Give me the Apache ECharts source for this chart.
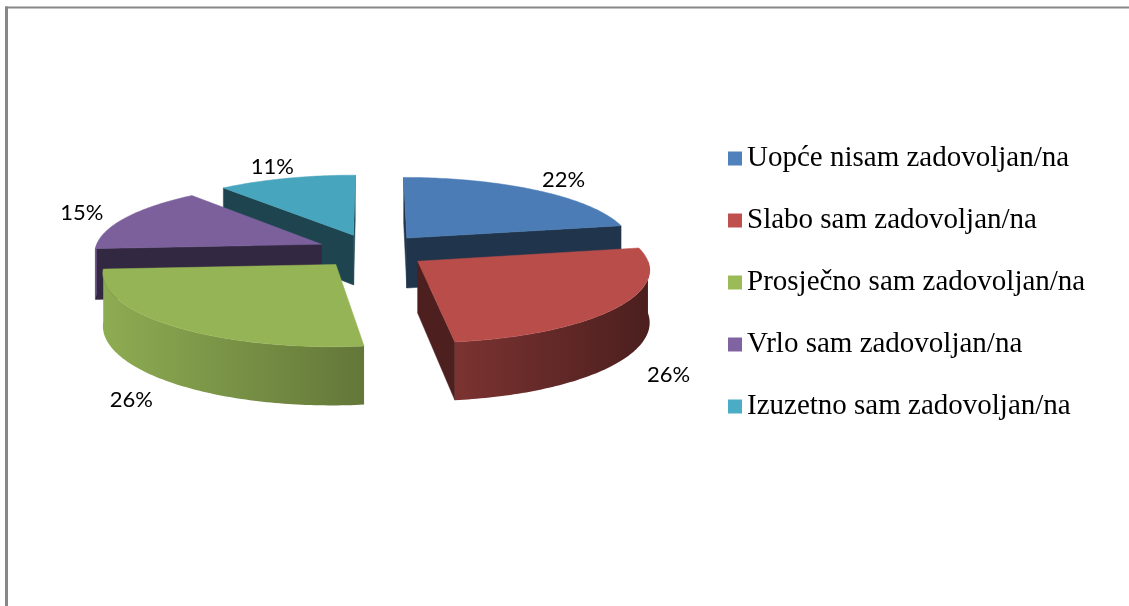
<!DOCTYPE html>
<html>
<head>
<meta charset="utf-8">
<script src="https://cdn.jsdelivr.net/npm/echarts@6/dist/echarts.min.js"></script>
<style>
html,body{margin:0;padding:0;background:#ffffff;}
#chart{width:1129px;height:606px;}
</style>
</head>
<body>
<div id="chart"></div>
<script>
// ---- data ----
const categories = [
  'Uopće nisam zadovoljan/na',
  'Slabo sam zadovoljan/na',
  'Prosječno sam zadovoljan/na',
  'Vrlo sam zadovoljan/na',
  'Izuzetno sam zadovoljan/na'
];
const values = [22, 26, 26, 15, 11];
const colors = ['#4F81BD', '#C0504D', '#9BBB59', '#8064A2', '#4BACC6'];

// ---- 3D pie geometry (styling) ----
const G = { cx: 372, cy: 251, A: 227, B: 70, D: 51, p: 0.11, q: 0.1, e: 0.245, lr: 1.23 };
const RAD = Math.PI / 180;

const total = values.reduce((a, b) => a + b, 0);
const starts = [];
(function () { let acc = 0; values.forEach(v => { starts.push(acc / total * 360); acc += v; }); })();

function proj(u, v, z) {
  const s = 1 / (1 - G.p * v);
  return [G.cx + G.A * u / (1 - G.q * v), G.cy + (G.B * v + G.D * z) * s];
}
function shade(hex, f) {
  const n = parseInt(hex.slice(1), 16);
  const r = Math.min(255, Math.round(((n >> 16) & 255) * f));
  const g = Math.min(255, Math.round(((n >> 8) & 255) * f));
  const b = Math.min(255, Math.round((n & 255) * f));
  return 'rgb(' + r + ',' + g + ',' + b + ')';
}
function area(pts) {
  let s = 0;
  for (let i = 0; i < pts.length; i++) {
    const a = pts[i], b = pts[(i + 1) % pts.length];
    s += a[0] * b[1] - b[0] * a[1];
  }
  return s;
}
function wallFactor(t) { return 0.39 + 0.003 * (t - 90); }

function makeRender(i) {
  return function (params, api) {
    const val = api.value(0);
    const ts = starts[i];
    const te = ts + val / total * 360;
    const tm = (ts + te) / 2;
    const u0 = G.e * Math.sin(tm * RAD), v0 = -G.e * Math.cos(tm * RAD);
    const rim = (t, r) => [u0 + r * Math.sin(t * RAD), v0 - r * Math.cos(t * RAD)];
    const P = (uv, z) => proj(uv[0], uv[1], z);
    const base = colors[i];
    const children = [];
    const apex = [u0, v0];

    const sf = [P(apex, 0), P(rim(ts, 1), 0), P(rim(ts, 1), 1), P(apex, 1)];
    if (area(sf) < 0) children.push({ type: 'polygon', shape: { points: sf }, style: { fill: shade(base, 0.4), stroke: shade(base, 0.4), lineWidth: 0.5 } });
    const ef = [P(apex, 0), P(apex, 1), P(rim(te, 1), 1), P(rim(te, 1), 0)];
    if (area(ef) < 0) children.push({ type: 'polygon', shape: { points: ef }, style: { fill: shade(base, 0.4), stroke: shade(base, 0.4), lineWidth: 0.5 } });

    const a = Math.max(ts, 90), b = Math.min(te, 270);
    if (b > a) {
      const topPts = [], botPts = [];
      const n = Math.max(2, Math.ceil(b - a));
      for (let k = 0; k <= n; k++) {
        const t = a + (b - a) * k / n;
        topPts.push(P(rim(t, 1), 0));
        botPts.push(P(rim(t, 1), 1));
      }
      const wall = topPts.concat(botPts.reverse());
      children.push({
        type: 'polygon', shape: { points: wall },
        style: {
          fill: {
            type: 'linear', x: 0, y: 0, x2: 1, y2: 0,
            colorStops: [
              { offset: 0, color: shade(base, wallFactor(b)) },
              { offset: 1, color: shade(base, wallFactor(a)) }
            ]
          }
        }
      });
    }

    const top = [P(apex, 0)];
    const n2 = Math.max(2, Math.ceil(te - ts));
    for (let k = 0; k <= n2; k++) top.push(P(rim(ts + (te - ts) * k / n2, 1), 0));
    children.push({ type: 'polygon', shape: { points: top }, style: { fill: shade(base, 0.96), stroke: shade(base, 0.96), lineWidth: 0.5 } });

    const lp = P(rim(tm, G.lr), Math.cos(tm * RAD) < 0 ? 1 : 0);
    children.push({
      type: 'text', x: lp[0], y: lp[1],
      style: { text: val + '%', fill: '#000', font: '22px Lato, "Liberation Sans", sans-serif', align: 'center', verticalAlign: 'middle' }
    });
    return { type: 'group', children: children };
  };
}

// draw order back-to-front
const depthKey = values.map((v, i) => {
  const tm = starts[i] + v / total * 180;
  return -Math.cos(tm * RAD);
});
const order = depthKey.map((d, i) => i).sort((x, y) => depthKey[x] - depthKey[y]);
const zOf = []; order.forEach((idx, r) => { zOf[idx] = 2 + r; });

const series = categories.map((name, i) => ({
  type: 'custom',
  name: name,
  coordinateSystem: 'none',
  z: zOf[i],
  itemStyle: { color: colors[i] },
  renderItem: makeRender(i),
  data: [[values[i]]]
}));

const chart = echarts.init(document.getElementById('chart'), null, { renderer: 'canvas' });
chart.setOption({
  animation: false,
  backgroundColor: '#ffffff',
  legend: {
    orient: 'vertical', left: 723, top: 139,
    itemWidth: 14, itemHeight: 14, itemGap: 33, icon: 'rect',
    textStyle: { fontFamily: '"Liberation Serif", "Times New Roman", serif', fontSize: 29, color: '#000' },
    data: categories
  },
  graphic: [
    { type: 'line', shape: { x1: 5, y1: 7.5, x2: 1129, y2: 7.5 }, style: { stroke: '#878787', lineWidth: 2 } },
    { type: 'line', shape: { x1: 6.5, y1: 6.5, x2: 6.5, y2: 606 }, style: { stroke: '#878787', lineWidth: 3 } }
  ],
  series: series
});
</script>
</body>
</html>
